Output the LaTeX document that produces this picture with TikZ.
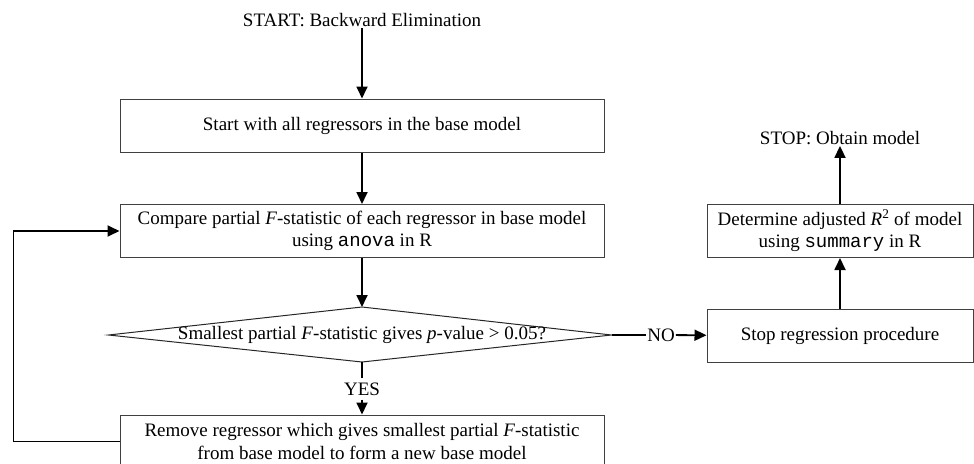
\documentclass[tikz,border=0pt]{standalone}
\usepackage{fontspec}
\setmainfont{Liberation Serif}
\setmonofont{Liberation Mono}
\usetikzlibrary{arrows.meta}
\begin{document}
\begin{tikzpicture}[x=1pt,y=-1pt,
  every node/.style={font=\fontsize{19}{22.7}\selectfont},
  box/.style={draw=black!75, line width=1pt, minimum height=53pt, inner sep=0pt, align=center},
  widebox/.style={box, minimum width=484pt},
  sidebox/.style={box, minimum width=266pt},
  conn/.style={line width=1.8pt, -{Triangle[length=12pt,width=11pt]}},
  plainline/.style={line width=1.8pt},
  dia/.style={draw=black!85, line width=1pt},
  lab/.style={inner sep=1pt}]
\clip (0,0) rectangle (974,463);
\node[lab] (start) at (362,20) {START: Backward Elimination};
\node[widebox] (b1) at (362,125.5) {Start with all regressors in the base model};
\node[widebox] (b2) at (362,231) {Compare partial \textit{F}-statistic of each regressor in base model\\using \texttt{anova} in R};
\coordinate (dt) at (362,307);
\coordinate (db) at (362,362);
\coordinate (dl) at (108.5,335);
\coordinate (dr) at (611.5,335);
\draw[dia] (dt) -- (dr) -- (db) -- (dl) -- cycle;
\node (d) at (362,335) {Smallest partial \textit{F}-statistic gives \textit{p}-value > 0.05?};
\node[widebox] (b4) at (362,441.5) {Remove regressor which gives smallest partial \textit{F}-statistic\\from base model to form a new base model};
\node[lab] (yes) at (362,389) [inner sep=4pt] {YES};
\node[lab] (no) at (661,335) {NO};
\node[sidebox] (stop) at (840,336) {Stop regression procedure};
\node[sidebox] (det) at (840,231) {Determine adjusted \textit{R}\textsuperscript{2} of model\\using \texttt{summary} in R};
\node[lab] (stoptext) at (840,138) {STOP: Obtain model};
\draw[conn] (start) -- (b1);
\draw[conn] (b1) -- (b2);
\draw[conn] (b2) -- (dt);
\draw[plainline] (db) -- (yes);
\draw[conn] (yes) -- (b4);
\draw[plainline] (dr) -- (no);
\draw[conn] (no) -- (stop);
\draw[conn] (stop) -- (det);
\draw[conn] (det) -- (stoptext);
\draw[conn] (b4.west) -- ++(-106,0) |- (b2.west);
\end{tikzpicture}
\end{document}
